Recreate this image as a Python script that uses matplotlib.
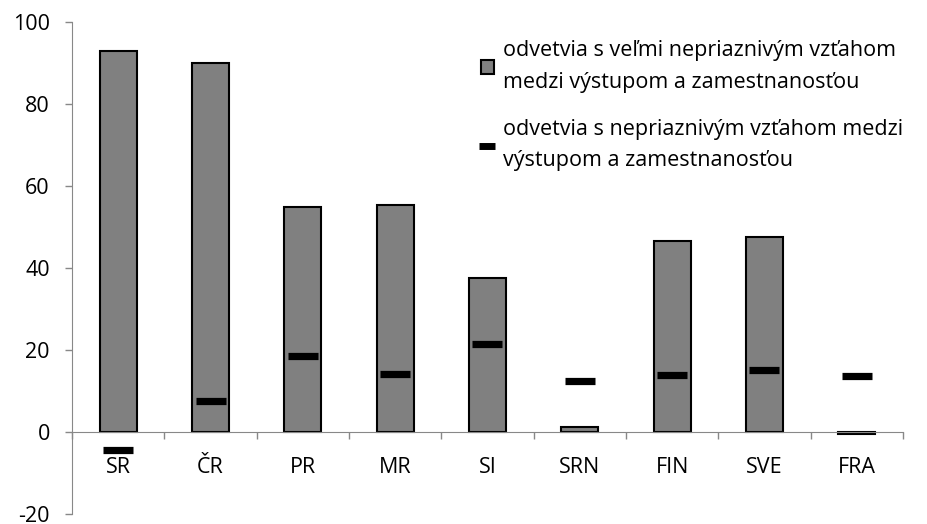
import matplotlib
matplotlib.use('Agg')
import matplotlib.pyplot as plt
import numpy as np
from matplotlib.patches import Patch
from matplotlib.lines import Line2D

countries = ['SR', 'ČR', 'PR', 'MR', 'SI', 'SRN', 'FIN', 'SVE', 'FRA']
very_unfav = [92.9, 90.1, 54.9, 55.3, 37.6, 1.3, 46.7, 47.5, -0.4]
unfav = [-4.5, 7.6, 18.6, 14.1, 21.5, 12.5, 13.8, 15.2, 13.7]
yticks = [-20, 0, 20, 40, 60, 80, 100]
label_bars = 'odvetvia s veľmi nepriaznivým vzťahom\nmedzi výstupom a zamestnanosťou'
label_marks = 'odvetvia s nepriaznivým vzťahom medzi\nvýstupom a zamestnanosťou'

plt.rcParams['font.family'] = ['Open Sans', 'DejaVu Sans']
plt.rcParams['axes.unicode_minus'] = False
fig = plt.figure(figsize=(9.28, 5.24), dpi=100)
ax = fig.add_axes([0.0776, 0.019, 0.8954, 0.939])

x = np.arange(len(countries))
ax.bar(x, very_unfav, width=0.4, color='#808080', edgecolor='black', linewidth=1.5, zorder=2)
ax.plot(x, unfav, linestyle='none', marker='_', markersize=22, markeredgewidth=5.2,
        color='black', zorder=3)

ax.set_xlim(-0.5, len(countries) - 0.5)
ax.set_ylim(-20, 100)
ax.set_yticks(yticks)
ax.tick_params(axis='y', length=5, width=1, color='#888888', labelsize=15.5, pad=11)

ax.set_xticks(np.arange(len(countries) + 1) - 0.5)
ax.set_xticklabels([])
ax.set_xticks(x, minor=True)
ax.set_xticklabels(countries, minor=True)
ax.tick_params(axis='x', which='major', length=5, width=1, color='#888888', direction='out')
ax.tick_params(axis='x', which='minor', length=0, labelsize=15.5, pad=18)

for s in ['top', 'right']:
    ax.spines[s].set_visible(False)
ax.spines['bottom'].set_position(('data', 0))
ax.spines['bottom'].set_color('#888888')
ax.spines['left'].set_color('#888888')

handles = [Patch(facecolor='#808080', edgecolor='black', linewidth=1.5),
           Line2D([], [], linestyle='none', marker='_', markersize=12, markeredgewidth=5, color='black')]
leg = ax.legend(handles, [label_bars, label_marks], loc='upper left', bbox_to_anchor=(0.47, 1.0),
                frameon=False, fontsize=15.5, handlelength=0.6, handleheight=0.6, handletextpad=0.45,
                labelspacing=1.2, borderaxespad=0.45)
for t in leg.get_texts():
    t.set_linespacing(1.65)

fig.savefig('out.png', dpi=100)
